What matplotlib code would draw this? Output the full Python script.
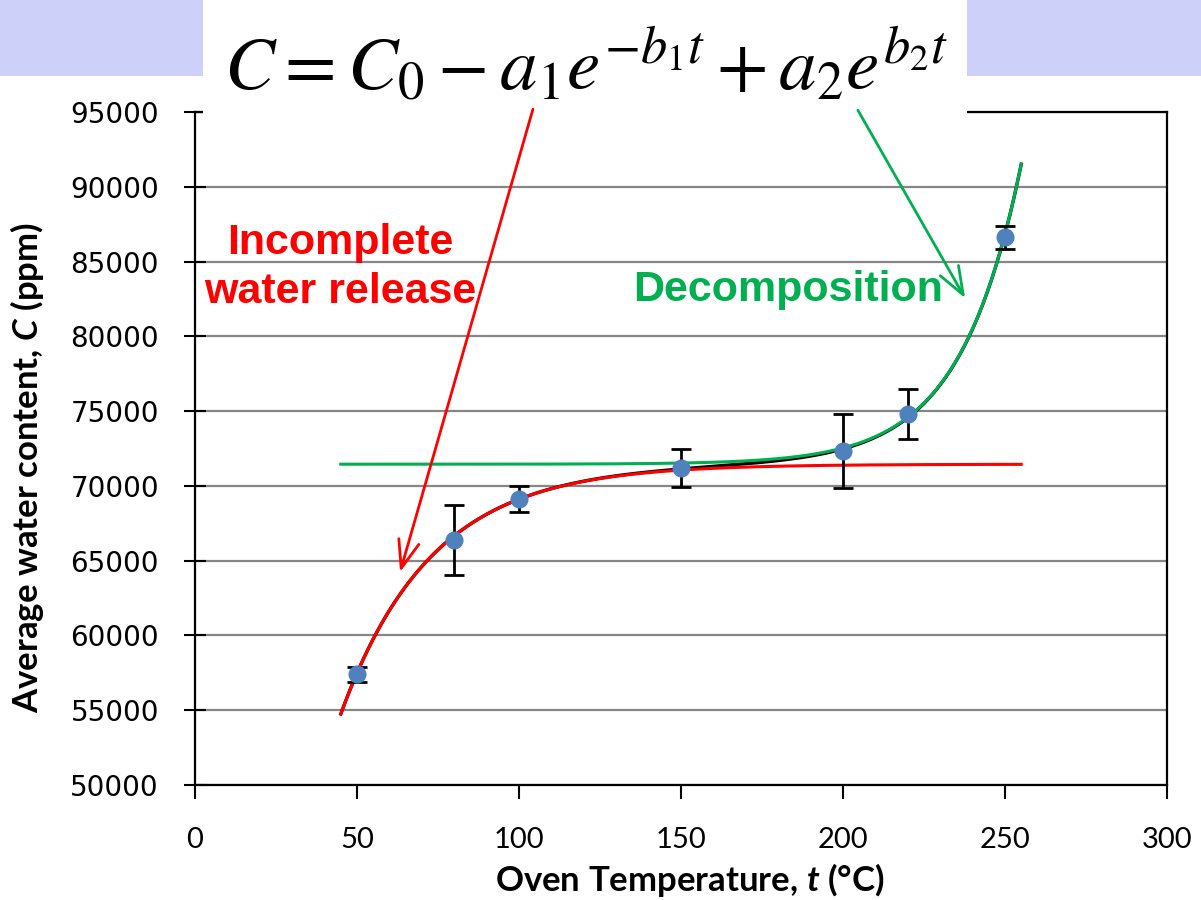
import numpy as np
import matplotlib
matplotlib.use("Agg")
import matplotlib.pyplot as plt
from matplotlib.patches import Rectangle, FancyArrowPatch

# mathtext: bold italic variables in the axis labels
plt.rcParams["mathtext.fontset"] = "custom"
plt.rcParams["mathtext.it"] = "Lato:italic:bold"
plt.rcParams["mathtext.rm"] = "Lato:bold"
plt.rcParams["mathtext.bf"] = "Lato:bold"

# measured points (oven temperature, average water content, error)
temp = [50, 80, 100, 150, 200, 220, 250]
water = [57420, 66380, 69120, 71200, 72340, 74800, 86630]
err = [500, 2370, 870, 1270, 2500, 1670, 770]

# fit C = C0 - a1*exp(-b1*t) + a2*exp(b2*t), parameters
C0 = 71450
a1, b1 = 83250, 0.0357
a2, b2 = 0.0271, 0.053
t_fit = np.linspace(45, 255, 300)

fit_full = C0 - a1 * np.exp(-b1 * t_fit) + a2 * np.exp(b2 * t_fit)
fit_release = C0 - a1 * np.exp(-b1 * t_fit)
fit_decomp = C0 + a2 * np.exp(b2 * t_fit)

xticks = [0, 50, 100, 150, 200, 250, 300]
yticks = list(range(50000, 95001, 5000))

red = "#FF0000"
green = "#00B050"

fig = plt.figure(figsize=(12.01, 9), dpi=100)
ax = fig.add_axes([195 / 1201, 115 / 900, 972 / 1201, 673 / 900])

ax.grid(axis="y", color="#868686", lw=1.6, zorder=0)
ax.set_axisbelow(True)

ax.plot(t_fit, fit_full, color="black", lw=2.4, zorder=2)
ax.plot(t_fit, fit_release, color=red, lw=2.2, zorder=3)
ax.plot(t_fit, fit_decomp, color=green, lw=2.2, zorder=3)

ax.errorbar(temp, water, yerr=err, fmt="none", ecolor="black", elinewidth=2,
            capsize=7, capthick=2, zorder=4)
ax.plot(temp, water, "o", color="#4F81BD", ms=12, zorder=5)

ax.set_xlim(0, 300)
ax.set_ylim(50000, 95000)
ax.set_xticks(xticks)
ax.set_yticks(yticks)
for s in ax.spines.values():
    s.set_linewidth(1.6)
    s.set_color("black")
ax.tick_params(axis="y", direction="inout", length=16, width=1.5, pad=18)
ax.tick_params(axis="x", direction="out", length=10, width=1.5, pad=20)
for lab in ax.get_yticklabels():
    lab.set_fontfamily("DejaVu Sans")
    lab.set_fontsize(20)
for lab in ax.get_xticklabels():
    lab.set_fontfamily("Lato")
    lab.set_fontsize(21)

fig.text(690 / 1201, 0.022, r"Oven Temperature, $t$ (°C)", ha="center", va="center",
         fontsize=25, fontweight="bold", family="Lato")
fig.text(27 / 1201, 0.481, r"Average water content, $C$ (ppm)", ha="center", va="center",
         rotation=90, fontsize=25, fontweight="bold", family="Lato")

ax.text(44.8, 84600, "Incomplete\nwater release", color=red, fontsize=31,
        fontweight="bold", family="Liberation Sans", ha="center", va="center",
        linespacing=1.3, zorder=6)
ax.text(183, 83090, "Decomposition", color=green, fontsize=31,
        fontweight="bold", family="Liberation Sans", ha="center", va="center", zorder=6)

# slide background band and the white equation box
fig.add_artist(Rectangle((0, 1 - 76 / 900), 1, 76 / 900, transform=fig.transFigure,
                         facecolor="#CDD0F8", edgecolor="none", zorder=5))
fig.add_artist(Rectangle((203 / 1201, 1 - 114 / 900), 764 / 1201, 114 / 900,
                         transform=fig.transFigure, facecolor="white",
                         edgecolor="none", zorder=6))
fig.text(0.488, 1 - 90 / 900, r"$C=C_0-a_1e^{-b_1t}+a_2e^{b_2t}$", ha="center",
         va="baseline", fontsize=54, math_fontfamily="stix", zorder=7)

# arrows from the equation terms to the curve regions
arrow_style = "->,head_length=0.8,head_width=0.3"
fig.add_artist(FancyArrowPatch((104.3, 95190), (63.3, 64240), transform=ax.transData,
                               arrowstyle=arrow_style, mutation_scale=25,
                               color=red, lw=2, zorder=8, shrinkA=0, shrinkB=0))
fig.add_artist(FancyArrowPatch((204.6, 95120), (237.7, 82550), transform=ax.transData,
                               arrowstyle=arrow_style, mutation_scale=25,
                               color=green, lw=2, zorder=8, shrinkA=0, shrinkB=0))

fig.savefig("out.png", dpi=100)
